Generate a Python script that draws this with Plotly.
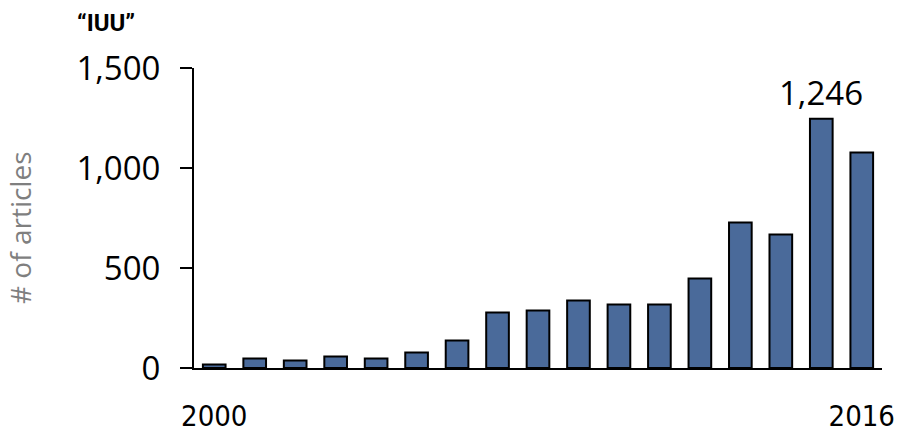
import plotly.graph_objects as go

years = [str(y) for y in range(2000, 2017)]
articles = [18, 47, 38, 57, 47, 77, 137, 278, 288, 337, 318, 318, 448, 728, 668, 1246, 1078]
y_ticks = [0, 500, 1000, 1500]
x_ticks = ["2000", "2016"]
highlight_year = "2015"
highlight_value = 1246

W, H = 904, 431
ML, MR, MT, MB = 194, 22, 68, 63
pw, ph = W - ML - MR, H - MT - MB

def px_x(p):
    return (p - ML) / pw

def px_y(p):
    return (H - MB - p) / ph

fig = go.Figure()
fig.add_trace(go.Bar(
    x=years, y=articles,
    marker=dict(color="#4A6A9A", line=dict(color="black", width=2)),
    hoverinfo="x+y",
))

fig.add_annotation(
    x=years.index(highlight_year), y=highlight_value, xref="x", yref="y",
    text=f"{highlight_value:,}", showarrow=False, yanchor="bottom", yshift=2,
    font=dict(family="Open Sans", size=33, color="black"),
)
fig.add_annotation(
    x=px_x(75), y=px_y(23), xref="paper", yref="paper",
    text="<b>“IUU”</b>", showarrow=False, xanchor="left", yanchor="middle",
    font=dict(family="Roboto", size=24, color="black"),
)
fig.add_annotation(
    x=px_x(20), y=px_y(228), xref="paper", yref="paper",
    text="# of articles", showarrow=False, textangle=-90,
    xanchor="center", yanchor="middle",
    font=dict(family="Open Sans", size=28, color="#7F7F7F"),
)

fig.update_layout(
    width=W, height=H,
    margin=dict(l=ML, r=MR, t=MT, b=MB, pad=0, autoexpand=False),
    plot_bgcolor="white", paper_bgcolor="white",
    bargap=0.44, showlegend=False,
    xaxis=dict(
        type="category", range=[-0.5, len(years) - 0.5], autorange=False,
        tickmode="array", tickvals=x_ticks, ticktext=x_ticks, tickangle=0,
        showline=True, linecolor="black", linewidth=2, ticks="",
        showgrid=False, zeroline=False, ticklabelstandoff=21, automargin=False,
        tickfont=dict(family="DejaVu Sans Condensed, Open Sans", size=29, color="black"),
    ),
    yaxis=dict(
        range=[0, 1500], autorange=False, tickmode="array", tickvals=y_ticks, tickformat=",",
        showline=True, linecolor="black", linewidth=2, automargin=False,
        ticks="outside", ticklen=12, tickwidth=2, tickcolor="black",
        showgrid=False, zeroline=False, ticklabelstandoff=13,
        tickfont=dict(family="Open Sans", size=33, color="black"),
    ),
)

fig.write_html(
    "out.html",
    config={"displayModeBar": False},
    post_script="document.body.style.margin='0';document.body.style.overflow='hidden';",
)
